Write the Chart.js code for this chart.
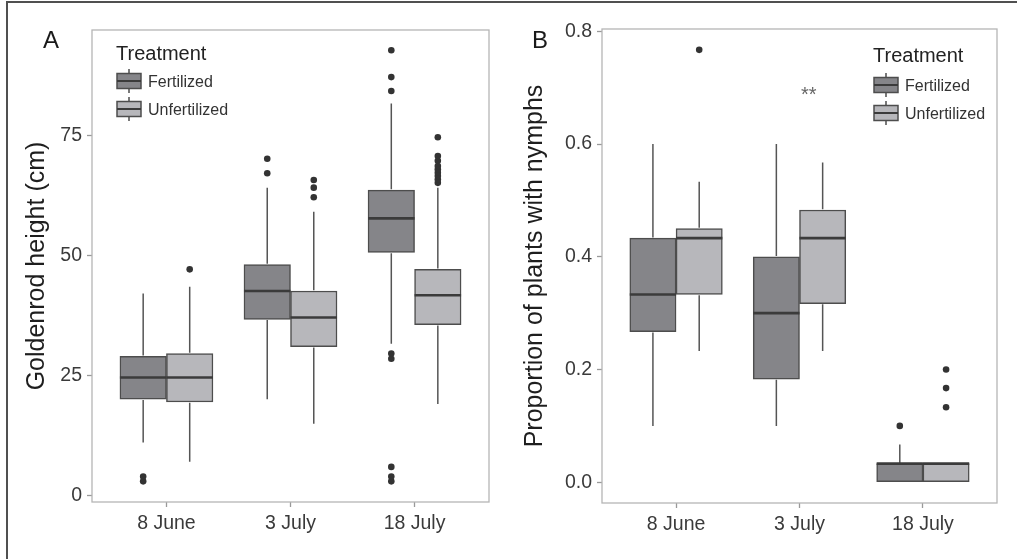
<!DOCTYPE html>
<html>
<head>
<meta charset="utf-8">
<script src="https://cdn.jsdelivr.net/npm/chart.js@4.4.1/dist/chart.umd.min.js"></script>
<style>
  body { margin: 0; background: #fff; }
  #frame { position: absolute; left: 6px; top: 1px; width: 1011px; height: 558px; border-top: 2px solid #505050; border-left: 2px solid #505050; box-sizing: border-box; }
  .panel { position: absolute; top: 0; height: 559px; }
</style>
</head>
<body>
<div id="frame"></div>
<div class="panel" style="left:0;width:510px"><canvas id="chartA" width="510" height="559"></canvas></div>
<div class="panel" style="left:510px;width:507px"><canvas id="chartB" width="507" height="559"></canvas></div>
<script>
const dates = ['8 June', '3 July', '18 July'];
const treatments = ['Fertilized', 'Unfertilized'];
const fills = ['#858589', '#b7b7bb'];

// A: goldenrod height (cm)
const heightFertLow = [11.1, 20.1, 31.6];
const heightFertQ1 = [20.1, 36.7, 50.6];
const heightFertMed = [24.6, 42.6, 57.7];
const heightFertQ3 = [29.0, 48.1, 63.6];
const heightFertHigh = [42.1, 64.1, 81.6];
const heightFertOut = [[3.0, 4.0], [67.1, 70.1], [3.0, 4.0, 6.0, 28.5, 29.6, 84.2, 87.1, 92.7]];

const heightUnfLow = [7.1, 15.0, 19.1];
const heightUnfQ1 = [19.5, 31.0, 35.6];
const heightUnfMed = [24.6, 37.1, 41.7];
const heightUnfQ3 = [29.6, 42.6, 47.1];
const heightUnfHigh = [43.5, 59.1, 64.1];
const heightUnfOut = [[47.1], [62.1, 64.1, 65.7], [65.1, 65.8, 66.5, 67.2, 67.9, 68.6, 69.7, 70.7, 74.6]];

// B: proportion of plants with nymphs
const nymphFertLow = [0.1, 0.1, 0];
const nymphFertQ1 = [0.267, 0.183, 0];
const nymphFertMed = [0.333, 0.3, 0.033];
const nymphFertQ3 = [0.433, 0.4, 0.033];
const nymphFertHigh = [0.6, 0.6, 0.067];
const nymphFertOut = [[], [], [0.1]];

const nymphUnfLow = [0.233, 0.233, 0];
const nymphUnfQ1 = [0.333, 0.317, 0];
const nymphUnfMed = [0.433, 0.433, 0.033];
const nymphUnfQ3 = [0.45, 0.483, 0.033];
const nymphUnfHigh = [0.533, 0.567, 0.033];
const nymphUnfOut = [[0.767], [], [0.133, 0.167, 0.2]];

const heightTicks = [0, 25, 50, 75];
const nymphTicks = [0, 0.2, 0.4, 0.6, 0.8];
const dodge = 0.1875;

Chart.defaults.font.family = "'Liberation Sans', Arial, sans-serif";
Chart.defaults.color = '#404040';

function boxDataset(k, low, q1, med, q3, high) {
  return {
    type: 'bar',
    label: treatments[k],
    data: dates.map((d, i) => ({ x: i + (k ? 1 : -1) * dodge, y: [q1[i], q3[i]] })),
    low: low, med: med, high: high,
    backgroundColor: fills[k],
    borderColor: '#4d4d4d',
    borderWidth: 1.5,
    borderSkipped: false,
    grouped: false,
    categoryPercentage: 1,
    barPercentage: 1
  };
}

function outlierDataset(k, outs) {
  const pts = [];
  outs.forEach((list, i) => list.forEach(v => pts.push({ x: i + (k ? 1 : -1) * dodge, y: v })));
  return {
    type: 'scatter',
    data: pts,
    pointRadius: 3.3,
    pointHoverRadius: 3.3,
    pointBackgroundColor: '#333',
    pointBorderWidth: 0
  };
}

// whiskers, medians and the panel border
const boxParts = {
  id: 'boxParts',
  afterDatasetsDraw(chart) {
    const ctx = chart.ctx;
    const y = chart.scales.y;
    chart.data.datasets.forEach((ds, di) => {
      if (!ds.med) return;
      chart.getDatasetMeta(di).data.forEach((bar, i) => {
        const q1 = y.getPixelForValue(ds.data[i].y[0]);
        const q3 = y.getPixelForValue(ds.data[i].y[1]);
        ctx.save();
        ctx.strokeStyle = '#555';
        ctx.lineWidth = 1.5;
        ctx.beginPath();
        if (ds.high[i] > ds.data[i].y[1]) {
          ctx.moveTo(bar.x, q3 - 0.75);
          ctx.lineTo(bar.x, y.getPixelForValue(ds.high[i]));
        }
        if (ds.low[i] < ds.data[i].y[0]) {
          ctx.moveTo(bar.x, q1 + 0.75);
          ctx.lineTo(bar.x, y.getPixelForValue(ds.low[i]));
        }
        ctx.stroke();
        const m = y.getPixelForValue(ds.med[i]);
        ctx.strokeStyle = '#3b3b3b';
        ctx.lineWidth = 2.6;
        ctx.beginPath();
        ctx.moveTo(bar.x - bar.width / 2, m);
        ctx.lineTo(bar.x + bar.width / 2, m);
        ctx.stroke();
        ctx.restore();
      });
    });
    const a = chart.chartArea;
    ctx.save();
    ctx.strokeStyle = '#b5b5b5';
    ctx.lineWidth = 1.3;
    ctx.strokeRect(a.left, a.top, a.right - a.left, a.bottom - a.top);
    ctx.restore();
  }
};

// legend with boxplot keys, panel letter, annotations
const panelText = {
  id: 'panelText',
  afterDraw(chart, args, opts) {
    const ctx = chart.ctx;
    ctx.save();
    ctx.fillStyle = '#1a1a1a';
    ctx.font = "24px 'Liberation Sans', Arial, sans-serif";
    ctx.textBaseline = 'alphabetic';
    ctx.fillText(opts.letter, opts.letterX, 48);

    ctx.fillStyle = '#222';
    ctx.font = "20px 'Liberation Sans', Arial, sans-serif";
    ctx.fillText('Treatment', opts.legendX - 1, opts.titleY);
    treatments.forEach((t, k) => {
      const cy = opts.rowY[k];
      const x0 = opts.legendX;
      ctx.strokeStyle = '#4d4d4d';
      ctx.lineWidth = 1.5;
      ctx.beginPath();
      ctx.moveTo(x0 + 12, cy - 12);
      ctx.lineTo(x0 + 12, cy + 12);
      ctx.stroke();
      ctx.fillStyle = fills[k];
      ctx.fillRect(x0, cy - 7.5, 24, 15);
      ctx.strokeRect(x0, cy - 7.5, 24, 15);
      ctx.strokeStyle = '#3b3b3b';
      ctx.lineWidth = 2;
      ctx.beginPath();
      ctx.moveTo(x0, cy);
      ctx.lineTo(x0 + 24, cy);
      ctx.stroke();
      ctx.fillStyle = '#333';
      ctx.font = "16px 'Liberation Sans', Arial, sans-serif";
      ctx.fillText(t, x0 + 31, cy + 6);
    });

    if (opts.stars) {
      const xs = chart.scales.x, ys = chart.scales.y;
      ctx.fillStyle = '#666';
      ctx.font = "20px 'Liberation Sans', Arial, sans-serif";
      ctx.textAlign = 'center';
      ctx.fillText(opts.stars.text, xs.getPixelForValue(opts.stars.x), ys.getPixelForValue(opts.stars.y));
    }
    ctx.restore();
  }
};

function makeChart(id, cfg) {
  return new Chart(document.getElementById(id), {
    type: 'bar',
    data: { datasets: cfg.datasets },
    plugins: [boxParts, panelText],
    options: {
      responsive: false,
      animation: false,
      events: [],
      layout: { padding: { left: 0, top: cfg.top, right: cfg.right, bottom: 0 } },
      plugins: {
        legend: { display: false },
        tooltip: { enabled: false },
        panelText: cfg.text
      },
      scales: {
        x: {
          type: 'linear',
          min: -0.6,
          max: 2.6,
          offset: false,
          afterBuildTicks: s => { s.ticks = dates.map((d, i) => ({ value: i })); },
          afterFit: s => { s.height = 559 - cfg.bottom; },
          ticks: {
            callback: v => dates[v],
            font: { size: 19.5 },
            color: '#3a3a3a',
            padding: 5,
            maxRotation: 0
          },
          grid: { display: true, offset: false, drawOnChartArea: false, drawTicks: true, tickLength: 5, tickColor: '#999', tickWidth: 1.3 },
          border: { display: false }
        },
        y: {
          type: 'linear',
          min: cfg.yMin,
          max: cfg.yMax,
          afterBuildTicks: s => { s.ticks = cfg.ticks.map(v => ({ value: v })); },
          afterFit: s => { s.width = 92; },
          ticks: {
            callback: cfg.fmt,
            font: { size: 19.5 },
            color: '#3a3a3a',
            padding: 5
          },
          grid: { display: true, drawOnChartArea: false, drawTicks: true, tickLength: 5, tickColor: '#999', tickWidth: 1.3 },
          border: { display: false },
          title: {
            display: true,
            text: cfg.yTitle,
            color: '#1e1e1e',
            font: { size: 25 },
            padding: { top: cfg.titlePad, bottom: 0 }
          }
        }
      }
    }
  });
}

makeChart('chartA', {
  datasets: [
    boxDataset(0, heightFertLow, heightFertQ1, heightFertMed, heightFertQ3, heightFertHigh),
    boxDataset(1, heightUnfLow, heightUnfQ1, heightUnfMed, heightUnfQ3, heightUnfHigh),
    outlierDataset(0, heightFertOut),
    outlierDataset(1, heightUnfOut)
  ],
  top: 30, right: 21, bottom: 502,
  yMin: -1.3, yMax: 96.9,
  ticks: heightTicks,
  fmt: v => String(v),
  yTitle: 'Goldenrod height (cm)',
  titlePad: 22,
  text: { letter: 'A', letterX: 43, legendX: 117, titleY: 60, rowY: [81, 109] }
});

makeChart('chartB', {
  datasets: [
    boxDataset(0, nymphFertLow, nymphFertQ1, nymphFertMed, nymphFertQ3, nymphFertHigh),
    boxDataset(1, nymphUnfLow, nymphUnfQ1, nymphUnfMed, nymphUnfQ3, nymphUnfHigh),
    outlierDataset(0, nymphFertOut),
    outlierDataset(1, nymphUnfOut)
  ],
  top: 29, right: 20, bottom: 503,
  yMin: -0.0368, yMax: 0.804,
  ticks: nymphTicks,
  fmt: v => v.toFixed(1),
  yTitle: 'Proportion of plants with nymphs',
  titlePad: 10,
  text: { letter: 'B', letterX: 22, legendX: 364, titleY: 62, rowY: [85, 113], stars: { text: '**', x: 1.075, y: 0.676 } }
});
</script>
</body>
</html>
